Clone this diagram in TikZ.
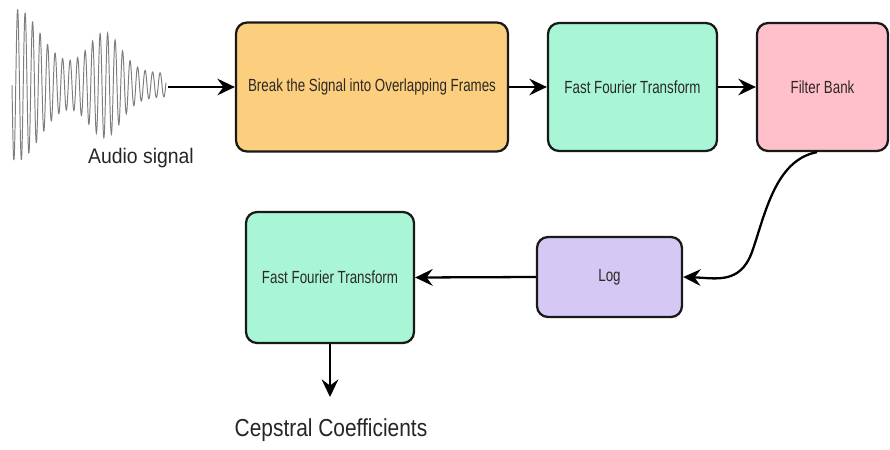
\documentclass[tikz,border=0pt]{standalone}
\usepackage{fontspec}
\setmainfont{Liberation Sans}
\newfontfamily\boxfont{Liberation Sans}[FakeStretch=0.76]
\newfontfamily\labfont{Liberation Sans}[FakeStretch=0.92]
\newfontfamily\cepfont{Liberation Sans}[FakeStretch=0.85]
\usetikzlibrary{arrows.meta,calc}
\definecolor{orangebox}{RGB}{251,207,125}
\definecolor{greenbox}{RGB}{168,246,214}
\definecolor{pinkbox}{RGB}{255,192,203}
\definecolor{purplebox}{RGB}{214,200,245}
\definecolor{txt}{RGB}{45,40,38}
\definecolor{wave}{RGB}{125,125,125}
\tikzset{
  procbox/.style={draw=black!90, line width=1.3pt, rounded corners=0.22cm, align=center,
    font=\boxfont\fontsize{10}{12}\selectfont, text=txt, inner sep=0pt},
  arr/.style={-{Stealth[length=10pt,width=9.5pt,inset=3.5pt]}, line width=1.3pt, black},
  lab/.style={text=black!85, inner sep=0pt}
}
\begin{document}
\begin{tikzpicture}[x=0.02cm,y=-0.02cm]
\useasboundingbox (0,0) rectangle (890,450);
% waveform
\draw[wave, line width=0.55pt, domain=12:166, samples=700, smooth]
  plot (\x, {85 + (52*exp(-((\x-18)/30)^2) + 36*exp(-((\x-105)/22)^2) + 24 - 0.08*(\x-12))*sin(48*(\x-12))});
\coordinate (wend) at (168,87);
\node[lab, font=\labfont\fontsize{12}{14}\selectfont] (audio) at (141,158) {Audio signal};

\node[procbox, fill=orangebox, minimum width=5.44cm, minimum height=2.58cm] (frames) at (372,87) {Break the Signal into Overlapping Frames};
\node[procbox, fill=greenbox, minimum width=3.38cm, minimum height=2.56cm] (fft1) at (632.5,87) {Fast Fourier Transform};
\node[procbox, fill=pinkbox, minimum width=2.62cm, minimum height=2.56cm] (fb) at (822.5,87) {Filter Bank};
\node[procbox, fill=purplebox, minimum width=2.9cm, minimum height=1.6cm] (log) at (609.5,277) {Log};
\node[procbox, fill=greenbox, minimum width=3.36cm, minimum height=2.62cm] (fft2) at (330,277.5) {Fast Fourier Transform};
\coordinate (cepend) at (330,397);
\node[lab, font=\cepfont\fontsize{14}{16}\selectfont] (cep) at (331,430) {Cepstral Coefficients};

\draw[arr] (wend) -- (frames.west);
\draw[arr] (frames.east) -- (fft1.west);
\draw[arr] (fft1.east) -- (fb.west);
\draw[arr] ([xshift=-0.11cm]fb.south) .. controls (775,160) and (765,215) .. (752,252)
   .. controls (740,285) and (715,278) .. (log.east);
\draw[arr] (log.west) -- (fft2.east);
\draw[arr] (fft2.south) -- (cepend);
\end{tikzpicture}
\end{document}
